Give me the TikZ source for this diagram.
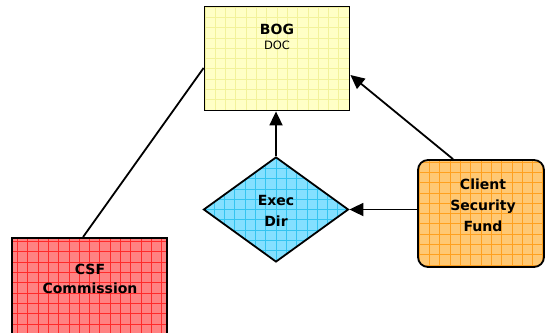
\documentclass[tikz,border=0pt]{standalone}
\usepackage{fontspec}
\setmainfont{DejaVu Sans}
\usetikzlibrary{shapes.geometric,arrows.meta}

\definecolor{bogfill}{HTML}{FFFFC6}
\definecolor{boggrid}{HTML}{F2F29A}
\definecolor{dirfill}{HTML}{84E0FF}
\definecolor{dirgrid}{HTML}{33C4F0}
\definecolor{csffill}{HTML}{FFC873}
\definecolor{csfgrid}{HTML}{FFA01E}
\definecolor{comfill}{HTML}{FF8282}
\definecolor{comgrid}{HTML}{FF2A2A}

\tikzset{
  gridfill/.style={path picture={
      \draw[#1, line width=0.7pt]
        ([xshift=-20pt,yshift=-20pt]path picture bounding box.south west)
        grid[step=10.3pt]
        ([xshift=20pt,yshift=20pt]path picture bounding box.north east);}},
  box/.style={draw=black, line width=1.8pt, inner sep=0pt},
  lbl/.style={font=\fontsize{14}{20}\selectfont\bfseries, anchor=base},
  sublbl/.style={font=\fontsize{11.5}{13}\selectfont, anchor=base},
  link/.style={line width=1.8pt},
  arrow/.style={link, -{Triangle[length=14pt,width=13pt]}},
}

\begin{document}
\begin{tikzpicture}[x=1pt,y=-1pt]
\useasboundingbox (0,0) rectangle (545,332);
\clip (0,0) rectangle (545,332);

% boxes
\node[box, fill=bogfill, gridfill=boggrid, minimum width=145pt, minimum height=104pt] (bog) at (277,58.5) {};
\node[box, diamond, fill=dirfill, gridfill=dirgrid, minimum width=145pt, minimum height=105pt] (dir) at (276,209.5) {};
\node[box, rounded corners=10pt, fill=csffill, gridfill=csfgrid, minimum width=126pt, minimum height=107pt] (csf) at (481,213.5) {};
\node[box, fill=comfill, gridfill=comgrid, minimum width=155pt, minimum height=110pt] (com) at (89.5,293) {};

% labels
\node[lbl] (bogt) at (277,34) {BOG};
\node[sublbl] (bogs) at (277,49.3) {DOC};
\node[lbl] (dirt1) at (276,205) {Exec};
\node[lbl] (dirt2) at (276,226) {Dir};
\node[lbl] (csft1) at (483,189.5) {Client};
\node[lbl] (csft2) at (483,210.5) {Security};
\node[lbl] (csft3) at (483,231.5) {Fund};
\node[lbl] (comt1) at (90,274.3) {CSF};
\node[lbl] (comt2) at (90,293.5) {Commission};

% connectors
\draw[link] ([xshift=-6.5pt]com.north) -- ([yshift=-9.5pt]bog.west);
\draw[arrow] (dir.north) -- (dir.north |- bog.south);
\draw[arrow] ([xshift=-28pt]csf.north) -- ([yshift=-16.5pt]bog.east);
\draw[arrow] (csf.west |- dir.east) -- (dir.east);
\end{tikzpicture}
\end{document}
